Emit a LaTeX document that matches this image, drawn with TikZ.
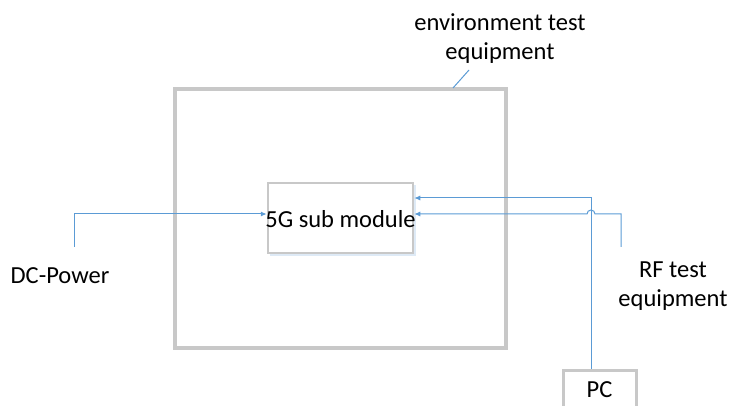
\documentclass[tikz,border=0pt]{standalone}
\usepackage{fontspec}
\setmainfont{Carlito}
\usetikzlibrary{arrows.meta,calc}
\definecolor{boxgray}{RGB}{200,200,200}
\definecolor{lineblue}{RGB}{91,155,213}
\definecolor{shadowblue}{RGB}{222,234,246}
\tikzset{
  lbl/.style={font=\fontsize{24.5}{29}\selectfont, align=center, inner sep=0pt},
  conn/.style={draw=lineblue, line width=1pt},
  arr/.style={conn, -{Latex[length=6pt,width=5pt]}},
}
\begin{document}
\begin{tikzpicture}[x=1pt,y=1pt]
\useasboundingbox (0,0) rectangle (729,405);
% outer box
\node[draw=boxgray, line width=4pt, minimum width=331pt, minimum height=259pt, inner sep=0pt] (env) at (340.5,186.5) {};
% inner module box with faint shadow
\fill[shadowblue] (270,149) rectangle (416,220);
\node[draw=boxgray, line width=2.5pt, fill=white, minimum width=145pt, minimum height=70pt, inner sep=0pt] (mod) at (340.5,187) {};
\node[lbl] (modlabel) at (340.5,186) {5G sub module};
% PC box
\node[draw=boxgray, line width=3pt, fill=white, minimum width=73pt, minimum height=40pt, inner sep=0pt] (pc) at (599.5,15) {};
\node[lbl] (pclabel) at (599.5,15) {PC};
% labels
\node[lbl] (envlabel) at (500,366) {environment test\\equipment};
\node[lbl] (dclabel) at (60,129) {DC-Power};
\node[lbl] (rflabel) at (673,119) {RF test\\equipment};
% coordinates
\coordinate (dcstart) at (74,158);
\coordinate (rfstart) at (621,158);
\coordinate (lead1) at (469,335);
\coordinate (lead2) at (453,317);
% leader
\draw[conn] (lead1) -- (lead2);
% DC arrow
\draw[arr] (dcstart) |- (mod.west |- 0,191);
% PC arrow
\draw[arr] ($(pc.north)+(-8.5,0)$) |- (mod.east |- 0,207);
% RF arrow with hop
\draw[arr] (rfstart) |- (595,191) arc[start angle=0,end angle=180,radius=4] -- (mod.east |- 0,191);
\end{tikzpicture}
\end{document}
